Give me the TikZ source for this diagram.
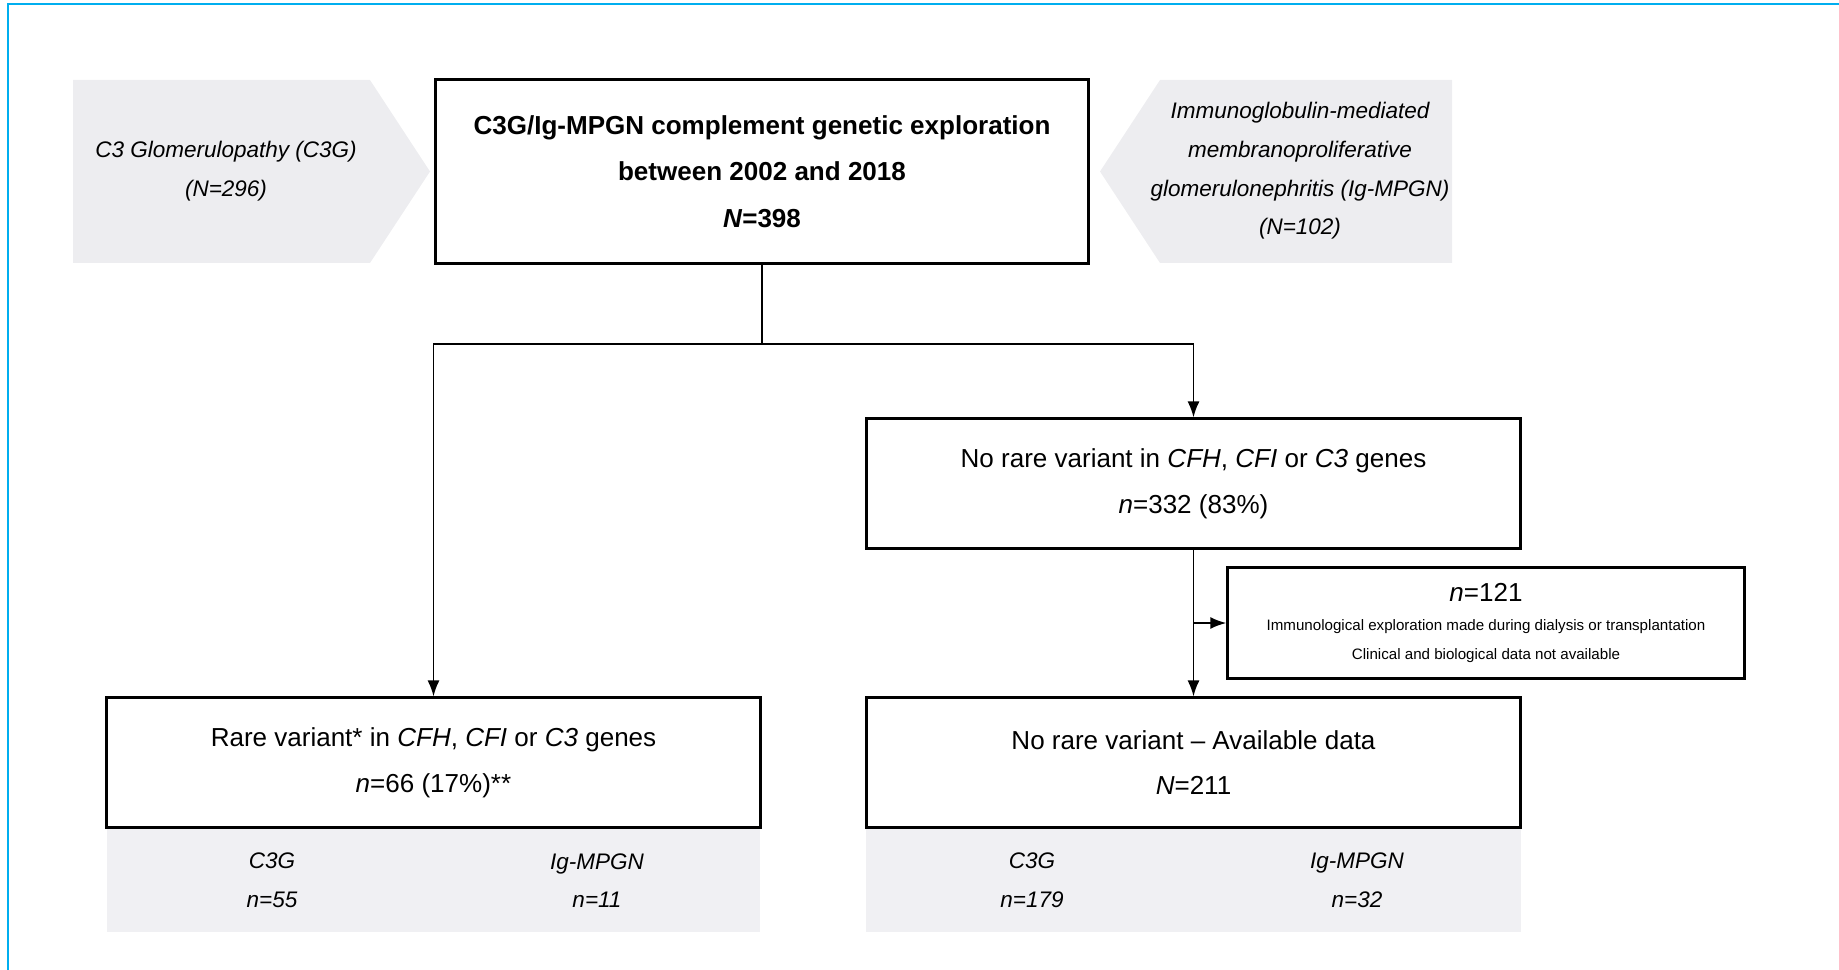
\documentclass[tikz,border=0pt]{standalone}
\usepackage{fontspec}
\setmainfont{Liberation Sans}
\usetikzlibrary{arrows.meta}

\definecolor{framecyan}{RGB}{0,174,239}
\definecolor{bandgray}{RGB}{240,240,243}
\definecolor{sidegray}{RGB}{237,237,240}

\tikzset{
  flowbox/.style={draw, line width=0.85pt, fill=white, align=center, inner sep=0pt,
    minimum width=6.53cm, minimum height=1.29cm, font=\fontsize{7.4}{13}\selectfont},
  sidetext/.style={align=center, inner sep=0pt, font=\fontsize{6.4}{11}\selectfont\itshape},
  flowarrow/.style={-{Latex[length=1.6mm,width=1.2mm]}, line width=0.55pt},
}
\newcommand{\tinytext}{\fontsize{4.3}{8}\selectfont}

\begin{document}
\begin{tikzpicture}[x=0.01cm, y=-0.01cm]
\useasboundingbox (0,0) rectangle (1839,970);

% Frame (top and left edge only)
\draw[framecyan, line width=0.6pt] (8,970) -- (8,4) -- (1839,4);

% Grey side arrows pointing to the main box
\fill[sidegray] (73,80) -- (370,80) -- (430,171.5) -- (370,263) -- (73,263) -- cycle;
\fill[sidegray] (1452,80) -- (1160,80) -- (1100,171.5) -- (1160,263) -- (1452,263) -- cycle;
\node[sidetext] (c3g) at (226,171) {C3 Glomerulopathy (C3G)\\(N=296)};
\node[sidetext] (igmpgn) at (1300,171) {Immunoglobulin-mediated\\membranoproliferative\\glomerulonephritis (Ig-MPGN)\\(N=102)};

% Main box
\node[flowbox, minimum width=6.52cm, minimum height=1.83cm,
  font=\fontsize{7.4}{13.2}\selectfont\bfseries] (top) at (762,171.5)
  {C3G/Ig-MPGN complement genetic exploration\\between 2002 and 2018\\\textit{N}=398};

% Bands under the bottom boxes
\fill[bandgray] (107,827) rectangle (760,932);
\fill[bandgray] (866,827) rectangle (1521,932);

% Result boxes
\node[flowbox] (norare) at (1193.5,483.5)
  {No rare variant in \textit{CFH}, \textit{CFI} or \textit{C3} genes\\\textit{n}=332 (83\%)};
\node[flowbox, minimum width=5.16cm, minimum height=1.10cm,
  font=\fontsize{7.4}{8.3}\selectfont] (excl) at (1486,623)
  {\textit{n}=121\\\tinytext Immunological exploration made during dialysis or transplantation\\\tinytext Clinical and biological data not available};
\node[flowbox] (rare) at (433.5,762.5)
  {Rare variant* in \textit{CFH}, \textit{CFI} or \textit{C3} genes\\\textit{n}=66 (17\%)**};
\node[flowbox] (avail) at (1193.5,762.5)
  {No rare variant -- Available data\\\textit{N}=211};

% Band labels
\node[sidetext] (rarec3g) at (272,880.5) {C3G\\n=55};
\node[sidetext] (rareig) at (597,880.5) {Ig-MPGN\\n=11};
\node[sidetext] (availc3g) at (1032,880.5) {C3G\\n=179};
\node[sidetext] (availig) at (1357,880.5) {Ig-MPGN\\n=32};

% Connectors
\draw[line width=0.55pt] (top.south) -- ++(0,79) coordinate (split);
\draw[flowarrow] (split) -| (rare.north);
\draw[flowarrow] (split) -| (norare.north);
\draw[flowarrow] (norare.south) -- (avail.north);
\draw[flowarrow] (norare.south |- excl.west) -- (excl.west);

\end{tikzpicture}
\end{document}
